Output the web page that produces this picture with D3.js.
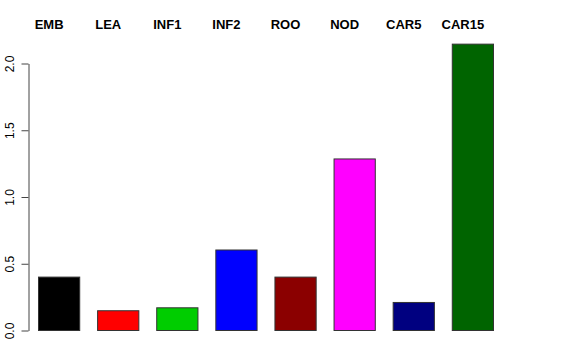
<!DOCTYPE html>
<html>
<head>
<meta charset="utf-8">
<script src="https://cdn.jsdelivr.net/npm/d3@7"></script>
<style>
  body { margin: 0; background: #fff; }
  svg { display: block; font-family: "Liberation Sans", Arial, sans-serif; }
  .axis path, .axis line { stroke: #444; }
  .axis text { font-size: 12px; fill: #000; }
  .cat-label { font-size: 13px; font-weight: bold; fill: #000; }
</style>
</head>
<body>
<svg id="chart" width="576" height="360"></svg>
<script>
// Data ////////////////////////////////////////////////////////////////
var categories = ["EMB", "LEA", "INF1", "INF2", "ROO", "NOD", "CAR5", "CAR15"];
var values = [0.40, 0.148, 0.17, 0.603, 0.40, 1.285, 0.21, 2.145];
var barColors = ["#000000", "#ff0000", "#00cd00", "#0000ff", "#8b0000", "#ff00ff", "#000080", "#006400"];
var yTicks = [0, 0.5, 1.0, 1.5, 2.0];

var data = categories.map(function(c, i) {
    return {name: c, value: values[i], color: barColors[i]};
});

var svg = d3.select("#chart");

// scales
var scaleX = d3.scaleBand()
    .domain(categories)
    .range([38, 494])
    .paddingInner(0.4 / 1.4)
    .paddingOuter(0);

var scaleY = d3.scaleLinear()
    .domain([0, 2])
    .range([330.5, 63.5]);

// Bars
svg.selectAll(".bar")
    .data(data)
    .enter()
    .append("rect")
        .attr("class", "bar")
        .attr("x", function(d) { return scaleX(d.name) + 0.5 })
        .attr("y", function(d) { return scaleY(d.value) })
        .attr("width", scaleX.bandwidth() - 1)
        .attr("height", function(d) { return scaleY(0) - scaleY(d.value) })
        .attr("fill", function(d) { return d.color })
        .attr("stroke", "#333")
        .attr("stroke-width", 1);

// Y axis (R style, rotated labels)
var yAxis = d3.axisLeft(scaleY)
    .tickValues(yTicks)
    .tickSize(7)
    .tickSizeOuter(0)
    .tickFormat(d3.format(".1f"));

var gy = svg.append("g")
    .attr("class", "axis")
    .attr("transform", "translate(28.5,0)")
    .call(yAxis);

gy.selectAll(".tick text")
    .attr("x", 0)
    .attr("y", 0)
    .attr("dy", null)
    .attr("text-anchor", "middle")
    .attr("transform", "translate(-15,0) rotate(-90)");

// Category labels along the top
svg.selectAll(".cat-label")
    .data(data)
    .enter()
    .append("text")
        .attr("class", "cat-label")
        .attr("x", function(d) { return scaleX(d.name) + scaleX.bandwidth() / 2 - 10 })
        .attr("y", 29)
        .attr("text-anchor", "middle")
        .text(function(d) { return d.name });
</script>
</body>
</html>
